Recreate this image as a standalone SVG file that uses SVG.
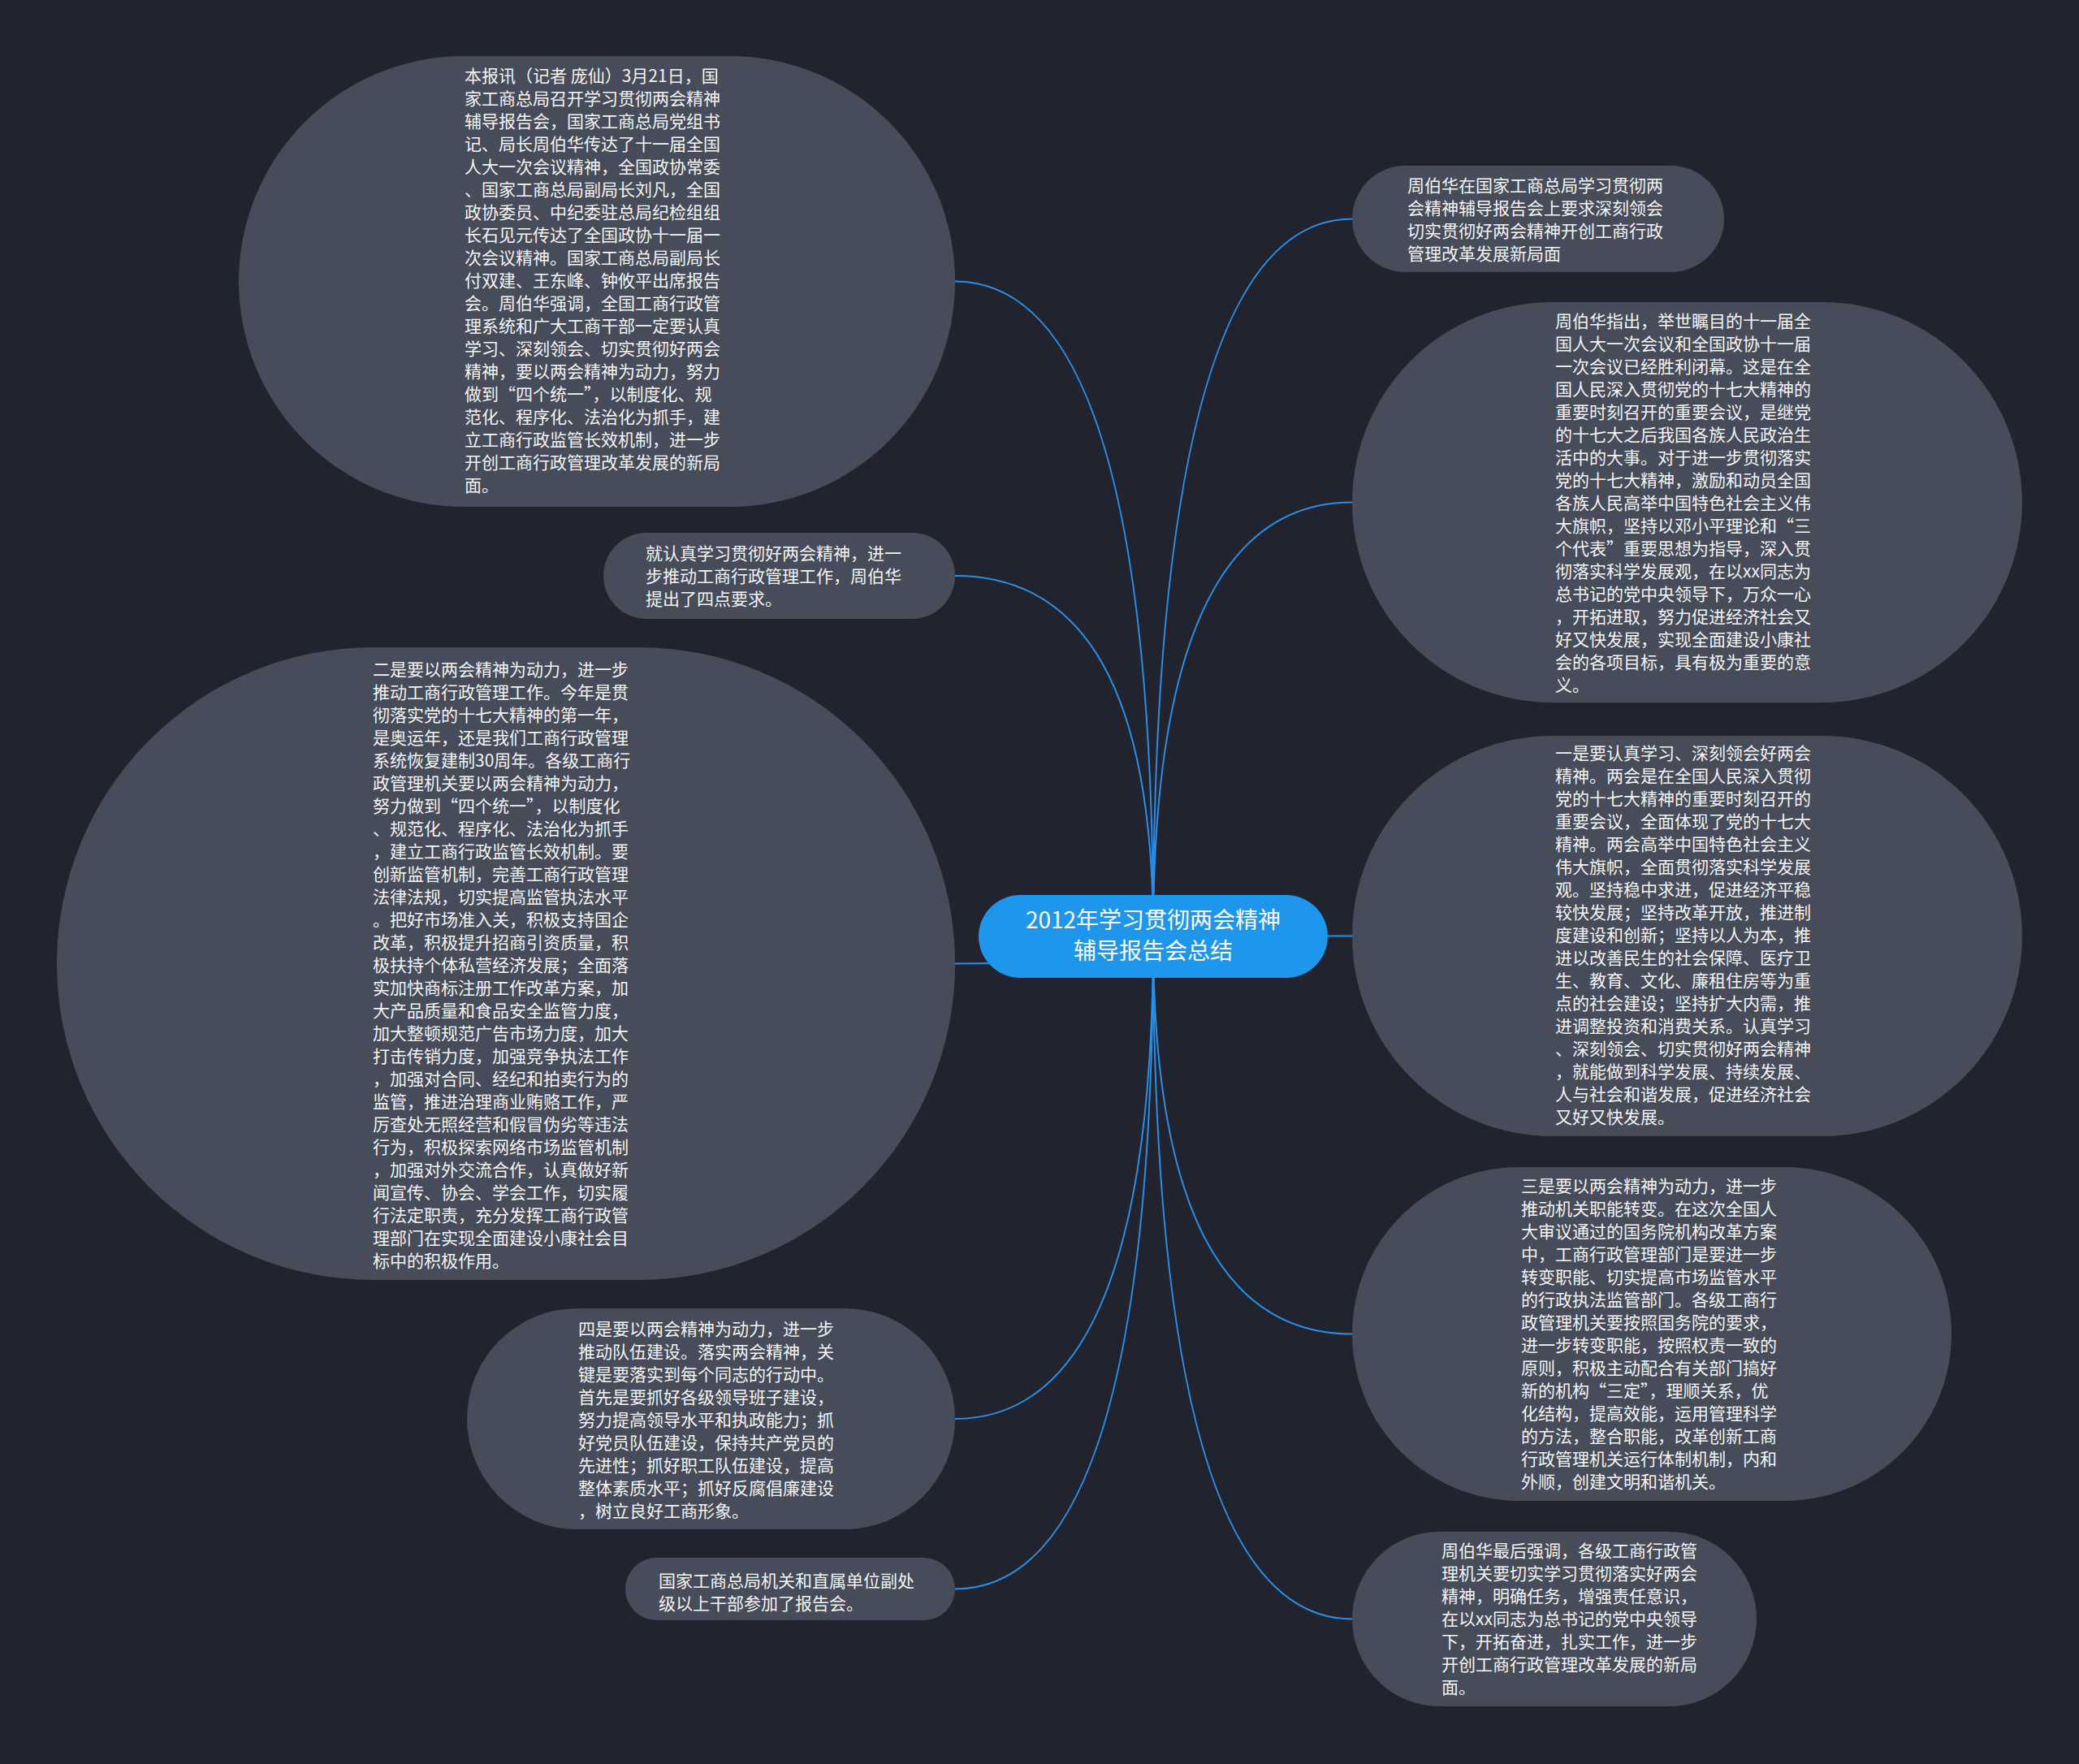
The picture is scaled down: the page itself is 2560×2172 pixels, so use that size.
<svg xmlns="http://www.w3.org/2000/svg" width="2560" height="2172" viewBox="0 0 2560 2172">
<style>
.bg{fill:#21242f}
.node{fill:#464c5a}
.root{fill:#1d96ec}
.t{font-family:"Noto Sans CJK SC","Noto Sans",sans-serif;font-size:21px;fill:#f4f4f4}
.rt{font-family:"Noto Sans CJK SC","Noto Sans",sans-serif;font-size:28px;fill:#ffffff;text-anchor:middle}
.link{fill:none;stroke:#2a8ee6;stroke-width:2}
</style>
<rect class="bg" x="0" y="0" width="2560" height="2172"/>
<g id="connectors">
<path class="link" d="M1420 1152 Q1420 346.5 1176 346.5"/>
<path class="link" d="M1420 1152 Q1420 709 1176 709"/>
<path class="link" d="M1420 1152 Q1420 1186.5 1176 1186.5"/>
<path class="link" d="M1420 1152 Q1420 1747 1176 1747"/>
<path class="link" d="M1420 1152 Q1420 1956.5 1176 1956.5"/>
<path class="link" d="M1420 1152 Q1420 269.5 1665 269.5"/>
<path class="link" d="M1420 1152 Q1420 618.5 1665 618.5"/>
<path class="link" d="M1420 1152 L1665 1152.5"/>
<path class="link" d="M1420 1152 Q1420 1642.5 1665 1642.5"/>
<path class="link" d="M1420 1152 Q1420 1993.5 1665 1993.5"/>
</g>
<g id="root">
<rect class="root" x="1205" y="1102" width="430" height="102" rx="51"/>
<text class="rt" x="1420" y="1143">2012年学习贯彻两会精神</text>
<text class="rt" x="1420" y="1181">辅导报告会总结</text>
</g>
<g id="n1">
<rect class="node" x="294" y="69" width="882" height="555" rx="277.5"/>
<text class="t">
<tspan x="572" y="101">本报讯（记者 庞仙）3月21日，国</tspan>
<tspan x="572" y="129">家工商总局召开学习贯彻两会精神</tspan>
<tspan x="572" y="157">辅导报告会，国家工商总局党组书</tspan>
<tspan x="572" y="185">记、局长周伯华传达了十一届全国</tspan>
<tspan x="572" y="213">人大一次会议精神，全国政协常委</tspan>
<tspan x="572" y="241">、国家工商总局副局长刘凡，全国</tspan>
<tspan x="572" y="269">政协委员、中纪委驻总局纪检组组</tspan>
<tspan x="572" y="297">长石见元传达了全国政协十一届一</tspan>
<tspan x="572" y="325">次会议精神。国家工商总局副局长</tspan>
<tspan x="572" y="353">付双建、王东峰、钟攸平出席报告</tspan>
<tspan x="572" y="381">会。周伯华强调，全国工商行政管</tspan>
<tspan x="572" y="409">理系统和广大工商干部一定要认真</tspan>
<tspan x="572" y="437">学习、深刻领会、切实贯彻好两会</tspan>
<tspan x="572" y="465">精神，要以两会精神为动力，努力</tspan>
<tspan x="572" y="493">做到“四个统一”，以制度化、规</tspan>
<tspan x="572" y="521">范化、程序化、法治化为抓手，建</tspan>
<tspan x="572" y="549">立工商行政监管长效机制，进一步</tspan>
<tspan x="572" y="577">开创工商行政管理改革发展的新局</tspan>
<tspan x="572" y="605">面。</tspan>
</text>
</g>
<g id="n2">
<rect class="node" x="743" y="656" width="433" height="106" rx="53"/>
<text class="t">
<tspan x="795" y="689">就认真学习贯彻好两会精神，进一</tspan>
<tspan x="795" y="717">步推动工商行政管理工作，周伯华</tspan>
<tspan x="795" y="745">提出了四点要求。</tspan>
</text>
</g>
<g id="n3">
<rect class="node" x="70" y="797" width="1106" height="779" rx="389.5"/>
<text class="t">
<tspan x="459" y="832">二是要以两会精神为动力，进一步</tspan>
<tspan x="459" y="860">推动工商行政管理工作。今年是贯</tspan>
<tspan x="459" y="888">彻落实党的十七大精神的第一年，</tspan>
<tspan x="459" y="916">是奥运年，还是我们工商行政管理</tspan>
<tspan x="459" y="944">系统恢复建制30周年。各级工商行</tspan>
<tspan x="459" y="972">政管理机关要以两会精神为动力，</tspan>
<tspan x="459" y="1000">努力做到“四个统一”，以制度化</tspan>
<tspan x="459" y="1028">、规范化、程序化、法治化为抓手</tspan>
<tspan x="459" y="1056">，建立工商行政监管长效机制。要</tspan>
<tspan x="459" y="1084">创新监管机制，完善工商行政管理</tspan>
<tspan x="459" y="1112">法律法规，切实提高监管执法水平</tspan>
<tspan x="459" y="1140">。把好市场准入关，积极支持国企</tspan>
<tspan x="459" y="1168">改革，积极提升招商引资质量，积</tspan>
<tspan x="459" y="1196">极扶持个体私营经济发展；全面落</tspan>
<tspan x="459" y="1224">实加快商标注册工作改革方案，加</tspan>
<tspan x="459" y="1252">大产品质量和食品安全监管力度，</tspan>
<tspan x="459" y="1280">加大整顿规范广告市场力度，加大</tspan>
<tspan x="459" y="1308">打击传销力度，加强竞争执法工作</tspan>
<tspan x="459" y="1336">，加强对合同、经纪和拍卖行为的</tspan>
<tspan x="459" y="1364">监管，推进治理商业贿赂工作，严</tspan>
<tspan x="459" y="1392">厉查处无照经营和假冒伪劣等违法</tspan>
<tspan x="459" y="1420">行为，积极探索网络市场监管机制</tspan>
<tspan x="459" y="1448">，加强对外交流合作，认真做好新</tspan>
<tspan x="459" y="1476">闻宣传、协会、学会工作，切实履</tspan>
<tspan x="459" y="1504">行法定职责，充分发挥工商行政管</tspan>
<tspan x="459" y="1532">理部门在实现全面建设小康社会目</tspan>
<tspan x="459" y="1560">标中的积极作用。</tspan>
</text>
</g>
<g id="n4">
<rect class="node" x="575" y="1611" width="601" height="272" rx="136"/>
<text class="t">
<tspan x="712" y="1644">四是要以两会精神为动力，进一步</tspan>
<tspan x="712" y="1672">推动队伍建设。落实两会精神，关</tspan>
<tspan x="712" y="1700">键是要落实到每个同志的行动中。</tspan>
<tspan x="712" y="1728">首先是要抓好各级领导班子建设，</tspan>
<tspan x="712" y="1756">努力提高领导水平和执政能力；抓</tspan>
<tspan x="712" y="1784">好党员队伍建设，保持共产党员的</tspan>
<tspan x="712" y="1812">先进性；抓好职工队伍建设，提高</tspan>
<tspan x="712" y="1840">整体素质水平；抓好反腐倡廉建设</tspan>
<tspan x="712" y="1868">，树立良好工商形象。</tspan>
</text>
</g>
<g id="n5">
<rect class="node" x="770" y="1918" width="406" height="77" rx="38.5"/>
<text class="t">
<tspan x="811" y="1954">国家工商总局机关和直属单位副处</tspan>
<tspan x="811" y="1982">级以上干部参加了报告会。</tspan>
</text>
</g>
<g id="n7">
<rect class="node" x="1665" y="204" width="458" height="131" rx="65.5"/>
<text class="t">
<tspan x="1733" y="236">周伯华在国家工商总局学习贯彻两</tspan>
<tspan x="1733" y="264">会精神辅导报告会上要求深刻领会</tspan>
<tspan x="1733" y="292">切实贯彻好两会精神开创工商行政</tspan>
<tspan x="1733" y="320">管理改革发展新局面</tspan>
</text>
</g>
<g id="n8">
<rect class="node" x="1665" y="372" width="825" height="493" rx="246.5"/>
<text class="t">
<tspan x="1915" y="403">周伯华指出，举世瞩目的十一届全</tspan>
<tspan x="1915" y="431">国人大一次会议和全国政协十一届</tspan>
<tspan x="1915" y="459">一次会议已经胜利闭幕。这是在全</tspan>
<tspan x="1915" y="487">国人民深入贯彻党的十七大精神的</tspan>
<tspan x="1915" y="515">重要时刻召开的重要会议，是继党</tspan>
<tspan x="1915" y="543">的十七大之后我国各族人民政治生</tspan>
<tspan x="1915" y="571">活中的大事。对于进一步贯彻落实</tspan>
<tspan x="1915" y="599">党的十七大精神，激励和动员全国</tspan>
<tspan x="1915" y="627">各族人民高举中国特色社会主义伟</tspan>
<tspan x="1915" y="655">大旗帜，坚持以邓小平理论和“三</tspan>
<tspan x="1915" y="683">个代表”重要思想为指导，深入贯</tspan>
<tspan x="1915" y="711">彻落实科学发展观，在以xx同志为</tspan>
<tspan x="1915" y="739">总书记的党中央领导下，万众一心</tspan>
<tspan x="1915" y="767">，开拓进取，努力促进经济社会又</tspan>
<tspan x="1915" y="795">好又快发展，实现全面建设小康社</tspan>
<tspan x="1915" y="823">会的各项目标，具有极为重要的意</tspan>
<tspan x="1915" y="851">义。</tspan>
</text>
</g>
<g id="n9">
<rect class="node" x="1665" y="906" width="825" height="493" rx="246.5"/>
<text class="t">
<tspan x="1915" y="935">一是要认真学习、深刻领会好两会</tspan>
<tspan x="1915" y="963">精神。两会是在全国人民深入贯彻</tspan>
<tspan x="1915" y="991">党的十七大精神的重要时刻召开的</tspan>
<tspan x="1915" y="1019">重要会议，全面体现了党的十七大</tspan>
<tspan x="1915" y="1047">精神。两会高举中国特色社会主义</tspan>
<tspan x="1915" y="1075">伟大旗帜，全面贯彻落实科学发展</tspan>
<tspan x="1915" y="1103">观。坚持稳中求进，促进经济平稳</tspan>
<tspan x="1915" y="1131">较快发展；坚持改革开放，推进制</tspan>
<tspan x="1915" y="1159">度建设和创新；坚持以人为本，推</tspan>
<tspan x="1915" y="1187">进以改善民生的社会保障、医疗卫</tspan>
<tspan x="1915" y="1215">生、教育、文化、廉租住房等为重</tspan>
<tspan x="1915" y="1243">点的社会建设；坚持扩大内需，推</tspan>
<tspan x="1915" y="1271">进调整投资和消费关系。认真学习</tspan>
<tspan x="1915" y="1299">、深刻领会、切实贯彻好两会精神</tspan>
<tspan x="1915" y="1327">，就能做到科学发展、持续发展、</tspan>
<tspan x="1915" y="1355">人与社会和谐发展，促进经济社会</tspan>
<tspan x="1915" y="1383">又好又快发展。</tspan>
</text>
</g>
<g id="n10">
<rect class="node" x="1665" y="1437" width="738" height="411" rx="205.5"/>
<text class="t">
<tspan x="1873" y="1468">三是要以两会精神为动力，进一步</tspan>
<tspan x="1873" y="1496">推动机关职能转变。在这次全国人</tspan>
<tspan x="1873" y="1524">大审议通过的国务院机构改革方案</tspan>
<tspan x="1873" y="1552">中，工商行政管理部门是要进一步</tspan>
<tspan x="1873" y="1580">转变职能、切实提高市场监管水平</tspan>
<tspan x="1873" y="1608">的行政执法监管部门。各级工商行</tspan>
<tspan x="1873" y="1636">政管理机关要按照国务院的要求，</tspan>
<tspan x="1873" y="1664">进一步转变职能，按照权责一致的</tspan>
<tspan x="1873" y="1692">原则，积极主动配合有关部门搞好</tspan>
<tspan x="1873" y="1720">新的机构“三定”，理顺关系，优</tspan>
<tspan x="1873" y="1748">化结构，提高效能，运用管理科学</tspan>
<tspan x="1873" y="1776">的方法，整合职能，改革创新工商</tspan>
<tspan x="1873" y="1804">行政管理机关运行体制机制，内和</tspan>
<tspan x="1873" y="1832">外顺，创建文明和谐机关。</tspan>
</text>
</g>
<g id="n11">
<rect class="node" x="1665" y="1886" width="498" height="215" rx="107.5"/>
<text class="t">
<tspan x="1775" y="1917">周伯华最后强调，各级工商行政管</tspan>
<tspan x="1775" y="1945">理机关要切实学习贯彻落实好两会</tspan>
<tspan x="1775" y="1973">精神，明确任务，增强责任意识，</tspan>
<tspan x="1775" y="2001">在以xx同志为总书记的党中央领导</tspan>
<tspan x="1775" y="2029">下，开拓奋进，扎实工作，进一步</tspan>
<tspan x="1775" y="2057">开创工商行政管理改革发展的新局</tspan>
<tspan x="1775" y="2085">面。</tspan>
</text>
</g>
</svg>
